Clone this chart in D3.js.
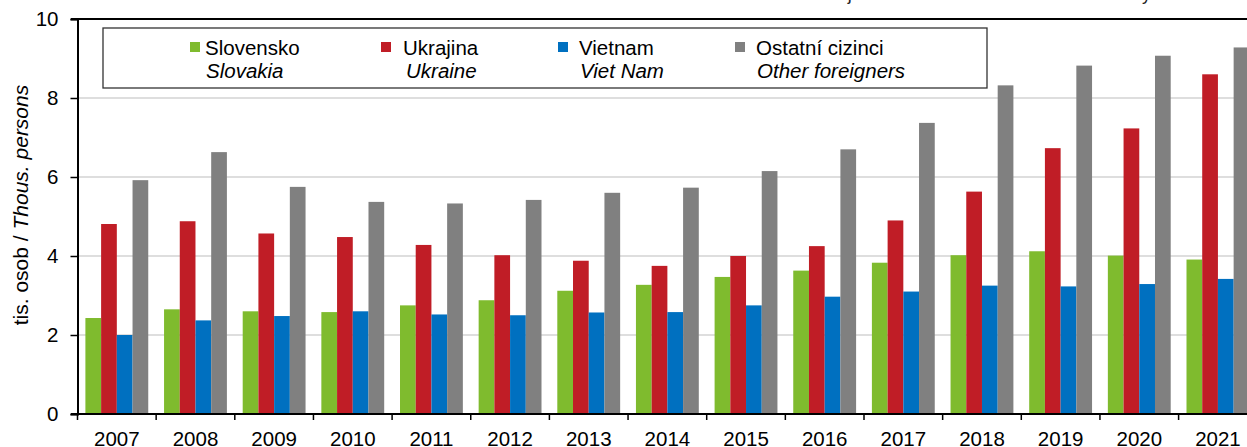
<!DOCTYPE html>
<html>
<head>
<meta charset="utf-8">
<script src="https://cdn.jsdelivr.net/npm/d3@7"></script>
<style>
  body { margin: 0; background: #fff; }
  svg { display: block; font-family: "Liberation Sans", Arial, sans-serif; }
</style>
</head>
<body>
<div id="chart"></div>
<script>
// data (thousands of persons)
const years = ["2007", "2008", "2009", "2010", "2011", "2012", "2013", "2014",
  "2015", "2016", "2017", "2018", "2019", "2020", "2021"];
const slovensko = [2.43, 2.65, 2.60, 2.58, 2.75, 2.88, 3.12, 3.27, 3.47, 3.63, 3.83, 4.02, 4.12, 4.01, 3.91];
const ukrajina = [4.81, 4.88, 4.57, 4.48, 4.28, 4.02, 3.88, 3.75, 4.00, 4.25, 4.90, 5.63, 6.73, 7.23, 8.60];
const vietnam = [2.00, 2.37, 2.48, 2.60, 2.52, 2.50, 2.57, 2.58, 2.75, 2.97, 3.10, 3.25, 3.23, 3.29, 3.42];
const ostatni = [5.92, 6.63, 5.75, 5.37, 5.33, 5.42, 5.60, 5.73, 6.15, 6.70, 7.37, 8.32, 8.82, 9.07, 9.28];
const yTicks = [0, 2, 4, 6, 8, 10];

const series = [
  { key: "sk", cz: "Slovensko", en: "Slovakia", color: "#7fbb2e", values: slovensko },
  { key: "ua", cz: "Ukrajina", en: "Ukraine", color: "#c01d26", values: ukrajina },
  { key: "vn", cz: "Vietnam", en: "Viet Nam", color: "#0070c0", values: vietnam },
  { key: "ot", cz: "Ostatní cizinci", en: "Other foreigners", color: "#808080", values: ostatni }
];

const W = 1247, H = 447;
const left = 77.5, bandW = 78.65;
const y0 = 414, yTop = 19;
const fs = 20.5;

const svg = d3.select("#chart").append("svg")
  .attr("width", W).attr("height", H);

const x = d3.scaleBand().domain(years)
  .range([left, left + years.length * bandW]).padding(0);
const xs = d3.scaleBand().domain(series.map(s => s.key))
  .range([7.9, bandW - 7.9]).padding(0);
const y = d3.scaleLinear().domain([0, 10]).range([y0, yTop]);

// source note (cut off at the top edge, as in the original)
svg.append("text")
  .attr("x", 1262).attr("y", 0)
  .attr("text-anchor", "end")
  .attr("font-size", 18).attr("fill", "#222")
  .text("Zdroj: Ministerstvo vnitra / Source: Ministry of the Interior");

// gridlines
svg.append("g")
  .selectAll("line")
  .data(yTicks.filter(t => t > 0 && t < 10))
  .enter().append("line")
  .attr("x1", left).attr("x2", W)
  .attr("y1", d => y(d)).attr("y2", d => y(d))
  .attr("stroke", "#d3d3d3").attr("stroke-width", 1.5);

// bars
const groups = svg.append("g")
  .selectAll("g")
  .data(years)
  .enter().append("g")
  .attr("transform", d => `translate(${x(d)},0)`);

groups.selectAll("rect")
  .data((d, i) => series.map(s => ({ key: s.key, color: s.color, v: s.values[i] })))
  .enter().append("rect")
  .attr("x", d => xs(d.key))
  .attr("width", xs.bandwidth())
  .attr("y", d => y(d.v))
  .attr("height", d => y0 - y(d.v))
  .attr("fill", d => d.color);

// top frame line
svg.append("line")
  .attr("x1", left - 6.5).attr("x2", W)
  .attr("y1", yTop).attr("y2", yTop)
  .attr("stroke", "#000").attr("stroke-width", 2);

// y axis
const yAxis = svg.append("g")
  .attr("transform", `translate(${left},0)`)
  .call(d3.axisLeft(y).tickValues(yTicks).tickSize(7).tickPadding(12).tickFormat(d3.format("d")));
yAxis.select(".domain").attr("stroke", "#000").attr("stroke-width", 2);
yAxis.selectAll(".tick line").attr("stroke", "#000").attr("stroke-width", 1.5);
yAxis.selectAll(".tick text")
  .attr("font-size", fs).attr("fill", "#000")
  .attr("font-family", "Liberation Sans, Arial, sans-serif");

// x axis
const xAxis = svg.append("g")
  .attr("transform", `translate(0,${y0})`)
  .call(d3.axisBottom(x).tickSize(0).tickPadding(17));
xAxis.select(".domain").remove();
xAxis.selectAll(".tick text")
  .attr("font-size", fs).attr("fill", "#000")
  .attr("font-family", "Liberation Sans, Arial, sans-serif");
svg.append("line")
  .attr("x1", left - 6.5).attr("x2", W)
  .attr("y1", y0).attr("y2", y0)
  .attr("stroke", "#000").attr("stroke-width", 2);
svg.append("g")
  .selectAll("line")
  .data(years)
  .enter().append("line")
  .attr("x1", d => x(d)).attr("x2", d => x(d))
  .attr("y1", y0).attr("y2", y0 + 6)
  .attr("stroke", "#000").attr("stroke-width", 1.5);

// y axis title
const yt = svg.append("text")
  .attr("transform", `translate(28,205) rotate(-90)`)
  .attr("text-anchor", "middle")
  .attr("font-size", 21).attr("fill", "#000");
yt.append("tspan").text("tis. osob / ");
yt.append("tspan").attr("font-style", "italic").text("Thous. persons");

// legend
svg.append("rect")
  .attr("x", 103).attr("y", 28).attr("width", 884).attr("height", 60)
  .attr("fill", "#fff").attr("stroke", "#333").attr("stroke-width", 1.3);

const legX = [190, 381, 558, 735];
const czOff = [15, 22, 21, 21];
const enOff = [16, 25, 22, 22];
const leg = svg.append("g")
  .selectAll("g")
  .data(series)
  .enter().append("g")
  .attr("transform", (d, i) => `translate(${legX[i]},0)`);
leg.append("rect")
  .attr("x", 0).attr("y", 42).attr("width", 10).attr("height", 10)
  .attr("fill", d => d.color);
leg.append("text")
  .attr("x", (d, i) => czOff[i]).attr("y", 55)
  .attr("font-size", fs).attr("fill", "#000")
  .text(d => d.cz);
leg.append("text")
  .attr("x", (d, i) => enOff[i]).attr("y", 77.5)
  .attr("font-size", fs).attr("font-style", "italic").attr("fill", "#000")
  .text(d => d.en);
</script>
</body>
</html>
